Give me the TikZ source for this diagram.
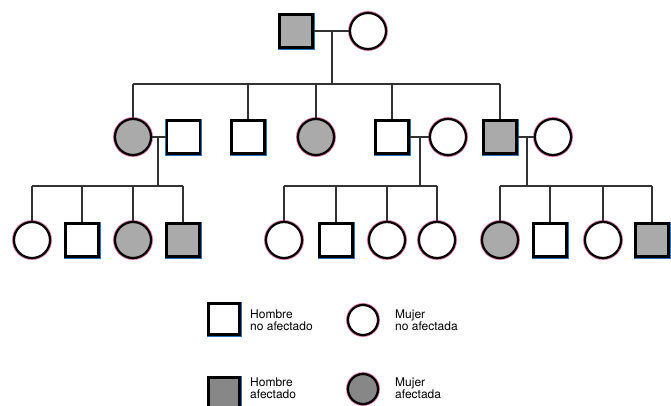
\documentclass[tikz,border=0pt]{standalone}
\usepackage{fontspec}
\setmainfont{TeX Gyre Heros}
\usetikzlibrary{calc}
\definecolor{maleedge}{RGB}{40,115,200}
\definecolor{femaleedge}{RGB}{225,105,165}
\definecolor{affected}{RGB}{170,170,170}
\definecolor{keyaffected}{RGB}{135,135,135}
\definecolor{linegray}{RGB}{50,50,50}
\tikzset{
  male/.style={
    rectangle,
    draw=black,
    fill=white,
    line width=2.2pt,
    minimum size=33pt,
    inner sep=0pt,
    preaction={draw=maleedge, line width=4pt}
  },
  female/.style={
    circle,
    draw=black,
    fill=white,
    line width=2.2pt,
    minimum size=36pt,
    inner sep=0pt,
    preaction={draw=femaleedge, line width=3.8pt}
  },
  ill/.style={fill=affected},
  keyill/.style={fill=keyaffected},
  line/.style={draw=linegray, line width=2pt},
  keytext/.style={anchor=west, align=left, inner sep=0pt, font=\fontsize{12}{12.5}\selectfont}
}

\begin{document}
\begin{tikzpicture}[x=1pt, y=-1pt]
        \useasboundingbox (0,0) rectangle (671,405);
        % first generation
        \node[male, ill] (p1) at (296,31) {};
        \node[female] (p2) at (368,31) {};
        % second generation
        \node[female, ill] (c1) at (133,137) {};
        \node[male] (h1) at (183.5,137) {};
        \node[male] (b1) at (248,137) {};
        \node[female, ill] (c2) at (316,137) {};
        \node[male] (b2) at (392,137) {};
        \node[female] (w2) at (448,137) {};
        \node[male, ill] (b3) at (500,137) {};
        \node[female] (w3) at (553,137) {};
        % third generation
        \node[female] (d1) at (32,240) {};
        \node[male] (d2) at (82,240) {};
        \node[female, ill] (d3) at (133,240) {};
        \node[male, ill] (d4) at (183,240) {};
        \node[female] (e1) at (284,240) {};
        \node[male] (e2) at (336,240) {};
        \node[female] (e3) at (387,240) {};
        \node[female] (e4) at (437,240) {};
        \node[female, ill] (f1) at (500,240) {};
        \node[male] (f2) at (550,240) {};
        \node[female] (f3) at (603,240) {};
        \node[male, ill] (f4) at (652,240) {};
        \coordinate (bar1) at (0,84);
        \coordinate (bar2) at (0,186);
        % couples
        \draw[line] (p1) -- (p2);
        \draw[line] (c1) -- (h1);
        \draw[line] (b2) -- (w2);
        \draw[line] (b3) -- (w3);
        \coordinate (j1) at ($(p1)!.5!(p2)$);
        \coordinate (j2) at ($(c1)!.5!(h1)$);
        \coordinate (j3) at ($(b2)!.5!(w2)$);
        \coordinate (j4) at ($(b3)!.5!(w3)$);
        \draw[line] (j1) -- (j1 |- bar1);
        \draw[line] (j2) -- (j2 |- bar2);
        \draw[line] (j3) -- (j3 |- bar2);
        \draw[line] (j4) -- (j4 |- bar2);
        % sibships
        \draw[line] (c1.north |- bar1) -- (b3.north |- bar1);
        \draw[line] (d1.north |- bar2) -- (d4.north |- bar2);
        \draw[line] (e1.north |- bar2) -- (e4.north |- bar2);
        \draw[line] (f1.north |- bar2) -- (f4.north |- bar2);
        \foreach \n in {c1,b1,c2,b2,b3}
          \draw[line] (\n.north) -- (\n.north |- bar1);
        \foreach \n in {d1,d2,d3,d4,e1,e2,e3,e4,f1,f2,f3,f4}
          \draw[line] (\n.north) -- (\n.north |- bar2);
        % key
        \node[male, minimum size=31pt] (k1) at (224,319) {};
        \node[keytext] (t1) at (250,320) {Hombre\\no afectado};
        \node[female, minimum size=30pt] (k2) at (363,320) {};
        \node[keytext] (t2) at (395,320) {Mujer\\no afectada};
        \node[male, keyill, minimum size=31pt] (k3) at (224,393) {};
        \node[keytext] (t3) at (250,388) {Hombre\\afectado};
        \node[female, keyill, minimum size=30pt] (k4) at (363,389) {};
        \node[keytext] (t4) at (395,388) {Mujer\\afectada};
      \end{tikzpicture}
\end{document}
